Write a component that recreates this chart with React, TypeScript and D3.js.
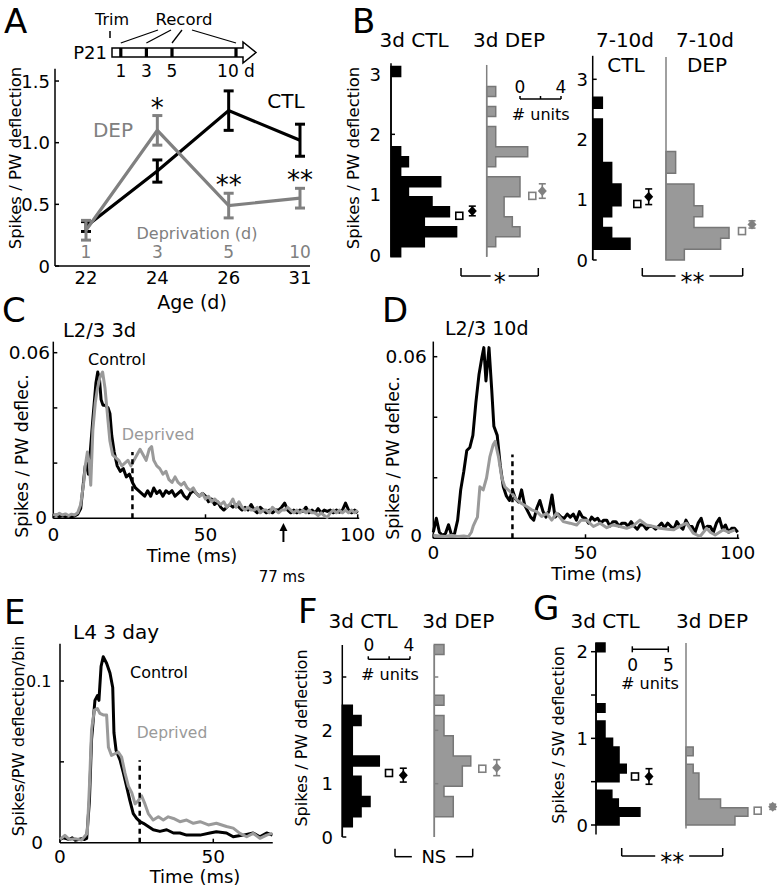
import { useEffect, useRef } from 'react'
import * as d3 from 'd3'

const FONT = '"DejaVu Sans", Arial, sans-serif'
const DEP_GRAY = '#808080'
const TRACE_GRAY = '#9a9a9a'
const HIST_FILL = '#999999'
const HIST_EDGE = '#777777'

// ---------- A: spikes vs age ----------
const ages = ['22', '24', '26', '31']
const depDays = ['1', '3', '5', '10']
const ctlMean = [0.32, 0.77, 1.26, 1.02]
const ctlSem = [0.04, 0.09, 0.16, 0.13]
const depMean = [0.29, 1.1, 0.49, 0.55]
const depSem = [0.08, 0.12, 0.1, 0.08]
const sigA = ['', '*', '**', '**']
const aYTicks = [0, 0.5, 1, 1.5]
const recordDays = [1, 3, 5, 10]

// ---------- B: histograms (units per bin) ----------
const b3dStart = -0.03
const b3dWidth = 0.166
const b3dCtl = [0.94, 3.25, 6.4, 3.25, 5.7, 4.0, 1.7, 4.85, 0.94, 1.7, 0.94, 0, 0, 0, 0, 0, 0, 0, 0.94]
const b3dDep = [0, 0.88, 3.25, 2.5, 1.7, 1.7, 3.25, 3.25, 0, 0.88, 4.0, 0.88, 0.88, 0, 0.88, 0, 0.88]
const b710Start = 0
const b710Width = 0.18
const b710Ctl = [0, 3.64, 1.85, 0.94, 1.85, 2.76, 2.76, 1.85, 1.85, 0.94, 0.94, 0.94, 0.94, 0, 0.94]
const b710Dep = [1.79, 5.33, 6.15, 2.73, 3.58, 2.73, 2.73, 0, 0.94, 0.94]
// [median, mean, sem]
const b3dCtlStats = [0.65, 0.73, 0.08]
const b3dDepStats = [0.98, 1.06, 0.12]
const b710CtlStats = [0.93, 1.05, 0.13]
const b710DepStats = [0.48, 0.59, 0.06]

// ---------- F / G histograms ----------
const fStart = 0
const fWidth = 0.19
const fCtl = [0, 0.96, 1.8, 2.66, 1.8, 1.8, 0.96, 3.55, 0.96, 0.96, 0.96, 1.8, 0.96]
const fDep = [0, 0, 1.82, 1.82, 0.93, 2.69, 2.69, 3.5, 1.82, 1.82, 0.93, 0.93, 0, 0.93, 0, 0, 0, 0, 0.93]
const fCtlStats = [1.2, 1.16, 0.13]
const fDepStats = [1.28, 1.3, 0.15]
const gStart = 0
const gWidth = 0.1
const gCtl = [3.2, 6.1, 3.1, 2.2, 0, 3.2, 4.2, 3.2, 3.2, 2.3, 1.25, 1.25, 0, 1.25, 0, 0, 0, 0, 0, 0, 1.25]
const gDep = [6.8, 8.6, 4.8, 1.8, 1.8, 1.8, 1.0, 0, 1.0]
const gCtlStats = [0.56, 0.56, 0.09]
const gDepStats = [0.165, 0.21, 0.03]

// ---------- C: L2/3 3d PSTH ----------
const cCtl: [number, number][] = [
  [0, 0.0008], [1, 0.0012], [2, 0.0006], [3, 0.001], [4, 0.0006], [5, 0.001], [6, 0.0005], [7, 0.0008],
  [8, 0.0015], [9, 0.0035], [10, 0.014], [10.5, 0.019], [11, 0.02], [11.5, 0.016], [12, 0.022], [13, 0.036],
  [14, 0.049], [14.6, 0.053], [15.2, 0.05], [15.7, 0.043], [16.3, 0.041], [17, 0.041], [18, 0.04], [18.6, 0.038],
  [19.2, 0.03], [20, 0.024], [21, 0.019], [22, 0.017], [23, 0.018], [24, 0.015], [25, 0.016], [26, 0.013],
  [27, 0.011], [28, 0.01], [29, 0.009], [30, 0.008], [31, 0.01], [32, 0.008], [33, 0.011], [34, 0.009],
  [35, 0.01], [36, 0.008], [37, 0.01], [38, 0.009], [39, 0.01], [40, 0.008], [41, 0.009], [42, 0.01],
  [43, 0.008], [44, 0.007], [45, 0.009], [46, 0.01], [47, 0.009], [48, 0.008], [49, 0.009], [50, 0.008],
  [51, 0.006], [52, 0.007], [53, 0.005], [54, 0.006], [55, 0.004], [56, 0.003], [57, 0.004], [58, 0.005],
  [59, 0.004], [60, 0.005], [62, 0.003], [63, 0.004], [64, 0.003], [65, 0.005], [66, 0.003], [67, 0.002],
  [68, 0.004], [69, 0.003], [70, 0.002], [71, 0.003], [72, 0.002], [73, 0.003], [74, 0.003], [75, 0.004],
  [76, 0.0055], [77, 0.003], [78, 0.002], [79, 0.003], [80, 0.002], [81, 0.003], [82, 0.0025], [83, 0.004],
  [84, 0.002], [85, 0.003], [86, 0.002], [87, 0.0035], [88, 0.002], [89, 0.003], [90, 0.0025], [91, 0.003],
  [92, 0.002], [93, 0.003], [94, 0.0022], [95, 0.003], [96, 0.0055], [97, 0.003], [98, 0.002], [99, 0.003], [100, 0.002],
]
const cDep: [number, number][] = [
  [0, 0.0015], [1, 0.001], [2, 0.0018], [3, 0.0012], [4, 0.0016], [5, 0.001], [6, 0.0015], [7, 0.0012],
  [8, 0.002], [9, 0.005], [10, 0.013], [10.5, 0.019], [11.2, 0.024], [11.8, 0.02], [12.3, 0.012], [13, 0.032],
  [13.8, 0.042], [14.5, 0.047], [15.3, 0.051], [16.2, 0.053], [17, 0.047], [17.5, 0.041], [18, 0.035], [18.6, 0.028],
  [19.5, 0.023], [20.5, 0.022], [21.5, 0.021], [22.5, 0.019], [23.5, 0.02], [24.5, 0.021], [25.5, 0.019], [26.5, 0.021],
  [27.5, 0.023], [28.5, 0.025], [29.5, 0.023], [30.5, 0.021], [31.5, 0.025], [32.3, 0.026], [33, 0.021], [34, 0.019],
  [35, 0.018], [36, 0.016], [37, 0.017], [38, 0.014], [39, 0.013], [40, 0.015], [41, 0.013], [42, 0.012],
  [43, 0.013], [44, 0.011], [45, 0.01], [46, 0.011], [47, 0.009], [48, 0.008], [49, 0.009], [50, 0.007],
  [51, 0.008], [52, 0.006], [53, 0.007], [54, 0.006], [55, 0.005], [56, 0.006], [57, 0.004], [58, 0.005],
  [59, 0.007], [60, 0.004], [61, 0.006], [62, 0.004], [63, 0.003], [64, 0.004], [65, 0.003], [66, 0.003],
  [67, 0.004], [68, 0.002], [69, 0.003], [70, 0.003], [71, 0.002], [72, 0.004], [73, 0.003], [74, 0.002],
  [75, 0.003], [76, 0.003], [77, 0.004], [78, 0.003], [79, 0.002], [80, 0.003], [81, 0.002], [82, 0.003],
  [83, 0.002], [84, 0.003], [85, 0.002], [86, 0.002], [87, 0.001], [88, 0.002], [89, 0.001], [90, 0.0003],
  [91, 0.002], [92, 0.003], [93, 0.002], [94, 0.003], [95, 0.002], [96, 0.003], [97, 0.002], [98, 0.003], [99, 0.002], [100, 0.003],
]

// ---------- D: L2/3 10d PSTH ----------
const dCtl: [number, number][] = [
  [0, 0.002], [1, 0.0066], [2, 0.002], [3, 0.001], [4, 0.0016], [5, 0.0045], [6, 0.001], [7, 0.0016],
  [8, 0.006], [9, 0.016], [10, 0.022], [11, 0.029], [12, 0.03], [13, 0.034], [14, 0.045], [15, 0.054],
  [16, 0.06], [16.6, 0.063], [17.3, 0.052], [18.3, 0.063], [19.2, 0.049], [19.9, 0.037], [21, 0.034], [22, 0.024],
  [23, 0.017], [24, 0.014], [25, 0.0125], [26, 0.016], [27, 0.013], [28, 0.012], [29, 0.016], [30, 0.011],
  [31, 0.009], [32, 0.007], [33, 0.006], [34, 0.01], [35, 0.0125], [36, 0.009], [37, 0.007], [38, 0.009],
  [39, 0.0143], [40, 0.007], [41, 0.008], [42, 0.007], [43, 0.0066], [44, 0.008], [45, 0.007], [46, 0.008],
  [47, 0.006], [48, 0.0088], [49, 0.007], [50, 0.0066], [51, 0.005], [52, 0.007], [53, 0.006], [54, 0.0066],
  [55, 0.005], [56, 0.006], [57, 0.006], [58, 0.004], [59, 0.0055], [60, 0.0055], [61, 0.004], [62, 0.005],
  [63, 0.005], [64, 0.004], [65, 0.0055], [66, 0.004], [67, 0.003], [68, 0.0045], [69, 0.0044], [70, 0.003],
  [71, 0.004], [72, 0.0039], [73, 0.003], [74, 0.004], [75, 0.005], [76, 0.0035], [77, 0.005], [78, 0.004],
  [79, 0.003], [80, 0.0055], [81, 0.004], [82, 0.003], [83, 0.006], [84, 0.004], [85, 0.0039], [86, 0.002],
  [87, 0.005], [88, 0.0066], [89, 0.003], [90, 0.004], [91, 0.0039], [92, 0.002], [93, 0.005], [94, 0.0066],
  [95, 0.003], [96, 0.0044], [97, 0.002], [98, 0.0033], [99, 0.0033], [100, 0.002],
]
const dDep: [number, number][] = [
  [0, 0.001], [2, 0.0008], [4, 0.0006], [6, 0.001], [8, 0.0006], [10, 0.0008], [11.5, 0.0005], [12.5, 0.002],
  [13.1, 0.004], [14, 0.006], [14.5, 0.007], [15.3, 0.017], [16.4, 0.016], [17.5, 0.02], [18.6, 0.027], [19.7, 0.031],
  [20.3, 0.032], [21.4, 0.027], [22.5, 0.02], [23.5, 0.017], [24.6, 0.016], [25.7, 0.015], [27.4, 0.0127], [29, 0.0115],
  [30.7, 0.0105], [32.3, 0.0094], [34, 0.0088], [35.6, 0.0072], [37.2, 0.0083], [38.9, 0.006], [40.5, 0.0083], [42.7, 0.0055],
  [44.9, 0.005], [47.1, 0.0044], [48.5, 0.006], [50.4, 0.006], [52.6, 0.0039], [54.8, 0.005], [57, 0.0035], [59, 0.0044],
  [61, 0.004], [63.5, 0.0033], [65.5, 0.004], [67.9, 0.006], [70, 0.0044], [72, 0.004], [74.5, 0.0033], [77, 0.003],
  [79, 0.0028], [81, 0.004], [83.2, 0.005], [85.4, 0.0017], [87.6, 0.0006], [89.8, 0.0033], [91, 0.002], [92.6, 0.0011],
  [94, 0.002], [95.3, 0.0028], [97, 0.002], [99.1, 0.0028],
]

// ---------- E: L4 3 day PSTH ----------
const eCtl: [number, number][] = [
  [0, 0.002], [1, 0.003], [2, 0.0025], [3, 0.002], [4, 0.003], [5, 0.0015], [6, 0.002], [7, 0.0025],
  [8, 0.002], [8.7, 0.0027], [9.6, 0.026], [10.3, 0.064], [11.4, 0.088], [12.2, 0.091], [12.7, 0.088], [13.4, 0.109],
  [14.1, 0.115], [15.2, 0.111], [16.3, 0.105], [17.2, 0.096], [17.6, 0.068], [18.3, 0.057], [19.6, 0.051], [20.7, 0.043],
  [21.7, 0.035], [22.8, 0.026], [23.9, 0.018], [25, 0.015], [26.1, 0.013], [27.2, 0.012], [28.8, 0.01], [30.4, 0.008],
  [32.6, 0.007], [34.8, 0.008], [37, 0.006], [39.1, 0.006], [41.3, 0.0047], [43.5, 0.0047], [45.7, 0.0047], [48.9, 0.006],
  [51, 0.0068], [54.3, 0.006], [56.5, 0.0037], [59.8, 0.0047], [63, 0.006], [65.2, 0.0037], [67.4, 0.006], [69.3, 0.0047],
]
const eDep: [number, number][] = [
  [0, 0.002], [1.6, 0.0045], [3, 0.002], [5, 0.0025], [7, 0.0016], [8.9, 0.0058], [9.6, 0.035], [10.3, 0.07],
  [11.2, 0.082], [12.2, 0.083], [13, 0.08], [14.1, 0.079], [15.2, 0.079], [15.8, 0.059], [16.8, 0.054], [17.9, 0.055],
  [19, 0.056], [20.1, 0.053], [21.2, 0.043], [22.3, 0.035], [23.4, 0.031], [24.5, 0.024], [25.5, 0.026], [26.6, 0.029],
  [27.7, 0.024], [28.8, 0.018], [30.4, 0.014], [32.1, 0.016], [33.7, 0.014], [35.3, 0.016], [37, 0.015], [39.1, 0.013],
  [41.3, 0.014], [43.5, 0.012], [45.7, 0.013], [48.4, 0.011], [51, 0.012], [54.3, 0.01], [56.5, 0.009], [58.7, 0.0058],
  [60.9, 0.0037], [63, 0.0058], [65.2, 0.0027], [67.4, 0.0047], [69.3, 0.0058],
]
const dashTime = 26
const arrowTime = 75.6

function txt(g: any, x: number, y: number, s: string, size: number, o: any = {}) {
  return g.append('text')
    .attr('x', x).attr('y', y)
    .attr('font-family', FONT).attr('font-size', size)
    .attr('fill', o.fill || '#000')
    .attr('text-anchor', o.anchor || 'start')
    .attr('dominant-baseline', o.baseline || 'auto')
    .text(s)
}

function vlabel(g: any, x: number, y: number, s: string, size: number) {
  g.append('text')
    .attr('transform', `translate(${x},${y}) rotate(-90)`)
    .attr('text-anchor', 'middle').attr('dominant-baseline', 'central')
    .attr('font-family', FONT).attr('font-size', size)
    .text(s)
}

function seg(g: any, x1: number, y1: number, x2: number, y2: number, stroke = '#000', w = 1.5) {
  return g.append('line').attr('x1', x1).attr('y1', y1).attr('x2', x2).attr('y2', y2)
    .attr('stroke', stroke).attr('stroke-width', w)
}

function histogram(g: any, y: any, axisX: number, counts: number[], start: number, width: number,
  px: number, fill: string, stroke: string) {
  const pts: [number, number][] = [[axisX, y(start)]]
  counts.forEach((c, i) => {
    const lo = start + i * width
    pts.push([axisX + c * px, y(lo)], [axisX + c * px, y(lo + width)])
  })
  pts.push([axisX, y(start + counts.length * width)])
  g.append('path').attr('d', d3.line()(pts) + 'Z')
    .attr('fill', fill).attr('stroke', stroke).attr('stroke-width', 1.5)
}

function summary(g: any, y: any, sqX: number, dmX: number, stats: number[], color: string) {
  const [median, mean, sem] = stats
  g.append('rect').attr('x', sqX - 3.5).attr('y', y(median) - 3.5).attr('width', 7).attr('height', 7)
    .attr('fill', '#fff').attr('stroke', color).attr('stroke-width', 1.6)
  seg(g, dmX, y(mean - sem), dmX, y(mean + sem), color, 1.6)
  seg(g, dmX - 3.5, y(mean - sem), dmX + 3.5, y(mean - sem), color, 1.6)
  seg(g, dmX - 3.5, y(mean + sem), dmX + 3.5, y(mean + sem), color, 1.6)
  const cy = y(mean)
  g.append('path').attr('d', `M${dmX},${cy - 5}L${dmX + 4.5},${cy}L${dmX},${cy + 5}L${dmX - 4.5},${cy}Z`)
    .attr('fill', color)
}

function bracket(g: any, x1: number, x2: number, yb: number, label: string, gap: number, stars: boolean) {
  const mid = (x1 + x2) / 2
  seg(g, x1, yb - 8, x1, yb)
  seg(g, x1, yb, mid - gap, yb)
  seg(g, mid + gap, yb, x2, yb)
  seg(g, x2, yb - 8, x2, yb)
  if (stars) txt(g, mid, yb + 14, label, 24, { anchor: 'middle' })
  else txt(g, mid, yb + 6.5, label, 18, { anchor: 'middle' })
}

function scaleBar(g: any, x0: number, len: number, yb: number, tickUp: number[], tickDown: number) {
  seg(g, x0, yb, x0 + len, yb)
  tickUp.forEach(f => seg(g, x0 + f * len, yb, x0 + f * len, yb - 3))
  if (tickDown) [0, 1].forEach(f => seg(g, x0 + f * len, yb - tickDown, x0 + f * len, yb + tickDown))
}

function tracePanel(g: any, o: any) {
  const { x, y, xEnd, yTop } = o
  seg(g, x(0), y(0), x(xEnd), y(0))
  seg(g, x(0), y(0), x(0), y(yTop))
  o.xTicks.forEach((t: number) => {
    seg(g, x(t), y(0), x(t), y(0) - 4)
    txt(g, x(t), o.xLabelY, String(t), 18.5, { anchor: 'middle', baseline: 'central' })
  })
  o.yTicks.forEach((v: number) => seg(g, x(0), y(v), x(0) + 4, y(v)))
  txt(g, o.topLabelX, y(o.topTick), o.topLabel, o.topSize || 18.5, { anchor: 'end', baseline: 'central' })
  txt(g, o.zeroLabelX, o.zeroLabelY, '0', 18.5, { anchor: 'end', baseline: 'central' })
  const line = d3.line<[number, number]>().x(d => x(d[0])).y(d => y(d[1]))
  g.append('path').attr('d', line(o.ctl)).attr('fill', 'none').attr('stroke', '#000')
    .attr('stroke-width', 3).attr('stroke-linejoin', 'round')
  g.append('path').attr('d', line(o.dep)).attr('fill', 'none').attr('stroke', TRACE_GRAY)
    .attr('stroke-width', 3).attr('stroke-linejoin', 'round')
  seg(g, x(dashTime), y(0), x(dashTime), y(o.dashTop), '#000', 2.5).attr('stroke-dasharray', '5,4')
}

export default function App() {
  const svgRef = useRef<SVGSVGElement>(null)

  useEffect(() => {
    document.body.style.margin = '0'
    if (!svgRef.current) return
    const svg = d3.select(svgRef.current)
    svg.selectAll('*').remove()
    const g = svg.append('g')

    // ================= A =================
    txt(g, 4, 33, 'A', 34)
    const dayX = d3.scaleLinear().domain([0, 10]).range([108, 236])
    txt(g, 112, 25, 'Trim', 16, { anchor: 'middle' })
    txt(g, 184, 25, 'Record', 16.5, { anchor: 'middle' })
    seg(g, 110, 31, 110, 38)
    const recStarts = [158, 171, 182, 192]
    recordDays.forEach((d, i) => seg(g, recStarts[i], 30, dayX(d), 43, '#000', 1.3))
    g.append('path').attr('d', 'M112,48L243,48L243,42L256,52.5L243,63L243,57L112,57Z')
      .attr('fill', '#fff').attr('stroke', '#000').attr('stroke-width', 1.5)
    recordDays.forEach(d => g.append('rect').attr('x', dayX(d) - 1.6).attr('y', 48).attr('width', 3.2).attr('height', 9).attr('fill', '#000'))
    txt(g, 107, 52.5, 'P21', 18, { anchor: 'end', baseline: 'central' })
    recordDays.forEach(d => txt(g, dayX(d), 71, d === 10 ? '10 d' : String(d), 17, { anchor: 'middle', baseline: 'central' }))

    const ax = d3.scalePoint<string>().domain(ages).range([86, 300])
    const ay = d3.scaleLinear().domain([0, 1.6]).range([266, 68.7])
    seg(g, 55, ay(0), 310, ay(0))
    seg(g, 55, ay(0), 55, ay(1.6))
    aYTicks.forEach(v => {
      seg(g, 55, ay(v), 59, ay(v))
      txt(g, 50, ay(v), v === 0 ? '0' : v.toFixed(1), 18, { anchor: 'end', baseline: 'central' })
    })
    ages.forEach((a, i) => {
      txt(g, ax(a)!, 277, a, 18, { anchor: 'middle', baseline: 'central' })
      txt(g, ax(a)!, 252, depDays[i], 17, { anchor: 'middle', baseline: 'central', fill: DEP_GRAY })
    })
    txt(g, 197, 233, 'Deprivation (d)', 16, { anchor: 'middle', baseline: 'central', fill: DEP_GRAY })
    const drawSeries = (mean: number[], sem: number[], color: string) => {
      const line = d3.line<number>().x((_, i) => ax(ages[i])!).y(d => ay(d))
      g.append('path').attr('d', line(mean)).attr('fill', 'none').attr('stroke', color).attr('stroke-width', 3.2)
      mean.forEach((m, i) => {
        const x = ax(ages[i])!
        seg(g, x, ay(m - sem[i]), x, ay(m + sem[i]), color, 3)
        seg(g, x - 5, ay(m - sem[i]), x + 5, ay(m - sem[i]), color, 3)
        seg(g, x - 5, ay(m + sem[i]), x + 5, ay(m + sem[i]), color, 3)
      })
    }
    drawSeries(ctlMean, ctlSem, '#000')
    drawSeries(depMean, depSem, DEP_GRAY)
    sigA.forEach((s, i) => {
      if (s) txt(g, ax(ages[i])!, ay(depMean[i] + depSem[i]) + 1, s, 26, { anchor: 'middle' })
    })
    txt(g, 113, 129.5, 'DEP', 20, { anchor: 'middle', baseline: 'central', fill: DEP_GRAY })
    txt(g, 286, 100.5, 'CTL', 20, { anchor: 'middle', baseline: 'central' })
    txt(g, 192, 302, 'Age (d)', 19, { anchor: 'middle', baseline: 'central' })
    vlabel(g, 15, 158, 'Spikes / PW deflection', 16.5)

    // ================= B =================
    txt(g, 352, 33, 'B', 34)
    txt(g, 414, 46.5, '3d CTL', 20, { anchor: 'middle' })
    txt(g, 509, 46.5, '3d DEP', 20, { anchor: 'middle' })
    txt(g, 625, 46.5, '7-10d', 20, { anchor: 'middle' })
    txt(g, 705, 46.5, '7-10d', 20, { anchor: 'middle' })
    txt(g, 626, 71.5, 'CTL', 20, { anchor: 'middle' })
    txt(g, 707, 71.5, 'DEP', 20, { anchor: 'middle' })
    vlabel(g, 353, 158, 'Spikes / PW deflection', 16.5)
    const bly = d3.scaleLinear().domain([0, 3]).range([255, 74])
    const bry = d3.scaleLinear().domain([0, 3]).range([260, 79.3])
    const bPx = 10.25
    // left pair
    histogram(g, bly, 391, b3dCtl, b3dStart, b3dWidth, bPx, '#000', '#000')
    seg(g, 391, bly(-0.03), 391, bly(3.18))
    ;[0, 1, 2, 3].forEach(v => {
      seg(g, 391, bly(v), 395, bly(v))
      txt(g, 381, bly(v), String(v), 18, { anchor: 'end', baseline: 'central' })
    })
    histogram(g, bly, 486.7, b3dDep, b3dStart, b3dWidth, bPx, HIST_FILL, HIST_EDGE)
    seg(g, 486.7, bly(-0.03), 486.7, bly(3.15), DEP_GRAY)
    summary(g, bly, 459.3, 472.3, b3dCtlStats, '#000')
    summary(g, bly, 532.3, 542.3, b3dDepStats, DEP_GRAY)
    scaleBar(g, 520, 4 * bPx, 99, [0, 0.5, 1], 0)
    txt(g, 520, 87, '0', 17, { anchor: 'middle', baseline: 'central' })
    txt(g, 561, 87, '4', 17, { anchor: 'middle', baseline: 'central' })
    txt(g, 540.7, 120, '# units', 16, { anchor: 'middle' })
    bracket(g, 461, 538.3, 276, '*', 9, true)
    // right pair
    histogram(g, bry, 592.7, b710Ctl, b710Start, b710Width, bPx, '#000', '#000')
    seg(g, 592.7, bry(0), 592.7, bry(3.39))
    ;[0, 1, 2, 3].forEach(v => {
      seg(g, 592.7, bry(v), 596.7, bry(v))
      txt(g, 588, bry(v), String(v), 18, { anchor: 'end', baseline: 'central' })
    })
    histogram(g, bry, 666, b710Dep, b710Start, b710Width, bPx, HIST_FILL, HIST_EDGE)
    seg(g, 666, bry(0), 666, bry(3.37), DEP_GRAY)
    summary(g, bry, 637.3, 648.7, b710CtlStats, '#000')
    summary(g, bry, 742, 752, b710DepStats, DEP_GRAY)
    bracket(g, 642.3, 742.7, 276, '**', 17, true)

    // ================= C =================
    txt(g, 2, 322, 'C', 34)
    txt(g, 63, 337, 'L2/3 3d', 19.5)
    const cx = d3.scaleLinear().domain([0, 100]).range([53.3, 357.7])
    const cy = d3.scaleLinear().domain([0, 0.06]).range([518.3, 352.7])
    tracePanel(g, {
      x: cx, y: cy, xEnd: 100.5, yTop: 0.064, xTicks: [0, 50, 100], yTicks: [0.02, 0.04, 0.06],
      xLabelY: 534, topLabelX: 50, topTick: 0.06, topLabel: '0.06', zeroLabelX: 47, zeroLabelY: 517,
      ctl: cCtl, dep: cDep, dashTop: 0.024,
    })
    txt(g, 88, 365, 'Control', 16)
    txt(g, 121.7, 440, 'Deprived', 16, { fill: TRACE_GRAY })
    txt(g, 192, 555, 'Time (ms)', 18, { anchor: 'middle', baseline: 'central' })
    vlabel(g, 21.5, 456, 'Spikes / PW deflec.', 17.3)
    const arX = cx(arrowTime)
    seg(g, arX, 542, arX, 528, '#000', 2)
    g.append('path').attr('d', `M${arX - 4},${531}L${arX},${523}L${arX + 4},${531}Z`).attr('fill', '#000')
    txt(g, arX - 1.5, 581.7, '77 ms', 15, { anchor: 'middle' })

    // ================= D =================
    txt(g, 382, 322, 'D', 34)
    txt(g, 445, 335, 'L2/3 10d', 19)
    const dx = d3.scaleLinear().domain([0, 100]).range([433.3, 737.7])
    const dy = d3.scaleLinear().domain([0, 0.06]).range([538.3, 356.7])
    tracePanel(g, {
      x: dx, y: dy, xEnd: 100.5, yTop: 0.065, xTicks: [0, 50, 100], yTicks: [0.02, 0.04, 0.06],
      xLabelY: 552.5, topLabelX: 426.7, topTick: 0.06, topLabel: '0.06', zeroLabelX: 422, zeroLabelY: 535,
      ctl: dCtl, dep: dDep, dashTop: 0.0277,
    })
    txt(g, 596.7, 573.5, 'Time (ms)', 18, { anchor: 'middle', baseline: 'central' })
    vlabel(g, 392.5, 458, 'Spikes / PW deflec.', 17.3)

    // ================= E =================
    txt(g, 4, 624, 'E', 34)
    txt(g, 73, 639, 'L4 3 day', 20)
    const ex = d3.scaleLinear().domain([0, 70]).range([60, 274.6])
    const ey = d3.scaleLinear().domain([0, 0.1]).range([842.7, 681])
    tracePanel(g, {
      x: ex, y: ey, xEnd: 69.4, yTop: 0.123, xTicks: [0, 50], yTicks: [0.05, 0.1],
      xLabelY: 856, topLabelX: 51.5, topTick: 0.1, topLabel: '0.1', topSize: 16, zeroLabelX: 43, zeroLabelY: 842,
      ctl: eCtl, dep: eDep, dashTop: 0.051,
    })
    txt(g, 130, 678, 'Control', 16)
    txt(g, 136.7, 738, 'Deprived', 15.5, { fill: TRACE_GRAY })
    txt(g, 195, 876.5, 'Time (ms)', 18, { anchor: 'middle', baseline: 'central' })
    vlabel(g, 18.5, 736, 'Spikes/PW deflection/bin', 16.3)

    // ================= F =================
    txt(g, 298, 623, 'F', 34)
    txt(g, 363, 628, '3d CTL', 20, { anchor: 'middle' })
    txt(g, 458.3, 628, '3d DEP', 20, { anchor: 'middle' })
    vlabel(g, 301.7, 738, 'Spikes / PW deflection', 16)
    const fy = d3.scaleLinear().domain([0, 3]).range([837, 677])
    const fPx = 10.42
    histogram(g, fy, 342.3, fCtl, fStart, fWidth, fPx, '#000', '#000')
    seg(g, 342.3, fy(0), 342.3, fy(3.6))
    ;[0, 1, 2, 3].forEach(v => {
      seg(g, 342.3, fy(v), 346.3, fy(v))
      txt(g, 333, fy(v), String(v), 18, { anchor: 'end', baseline: 'central' })
    })
    histogram(g, fy, 434.3, fDep, fStart, fWidth, fPx, HIST_FILL, HIST_EDGE)
    seg(g, 434.3, fy(0), 434.3, fy(3.6), DEP_GRAY)
    ;[1, 2, 3].forEach(v => seg(g, 434.3, fy(v), 438.3, fy(v), DEP_GRAY))
    summary(g, fy, 389, 403.3, fCtlStats, '#000')
    summary(g, fy, 482.3, 496.7, fDepStats, DEP_GRAY)
    scaleBar(g, 368.3, 4 * fPx, 659.3, [0, 0.5, 1], 0)
    txt(g, 369, 645, '0', 17, { anchor: 'middle', baseline: 'central' })
    txt(g, 409, 645, '4', 17, { anchor: 'middle', baseline: 'central' })
    txt(g, 390, 680, '# units', 16, { anchor: 'middle' })
    bracket(g, 395, 472.7, 856.7, 'NS', 22, false)

    // ================= G =================
    txt(g, 533, 620, 'G', 34)
    txt(g, 605, 628, '3d CTL', 20, { anchor: 'middle' })
    txt(g, 712, 628, '3d DEP', 20, { anchor: 'middle' })
    vlabel(g, 558.3, 735, 'Spikes / SW deflection', 16)
    const gy = d3.scaleLinear().domain([0, 2]).range([825, 651.7])
    const gPx = 7.2
    histogram(g, gy, 596, gCtl, gStart, gWidth, gPx, '#000', '#000')
    seg(g, 596, gy(-0.11), 596, gy(2.1))
    ;[0, 0.5, 1, 1.5, 2].forEach(v => seg(g, 591, gy(v), 596, gy(v)))
    ;[0, 1, 2].forEach(v => txt(g, 588, gy(v), String(v), 18, { anchor: 'end', baseline: 'central' }))
    histogram(g, gy, 686, gDep, gStart, gWidth, gPx, HIST_FILL, HIST_EDGE)
    seg(g, 686, gy(-0.04), 686, gy(2.1), DEP_GRAY)
    summary(g, gy, 635, 649, gCtlStats, '#000')
    summary(g, gy, 757.7, 772.7, gDepStats, DEP_GRAY)
    scaleBar(g, 632.3, 5 * gPx, 649.3, [], 3)
    txt(g, 632.7, 665, '0', 17, { anchor: 'middle', baseline: 'central' })
    txt(g, 668.3, 665, '5', 17, { anchor: 'middle', baseline: 'central' })
    txt(g, 650, 689, '# units', 16, { anchor: 'middle' })
    bracket(g, 621.7, 722.7, 856, '**', 17, true)
  }, [])

  return <svg ref={svgRef} width={783} height={890} style={{ display: 'block', background: '#fff' }} />
}
